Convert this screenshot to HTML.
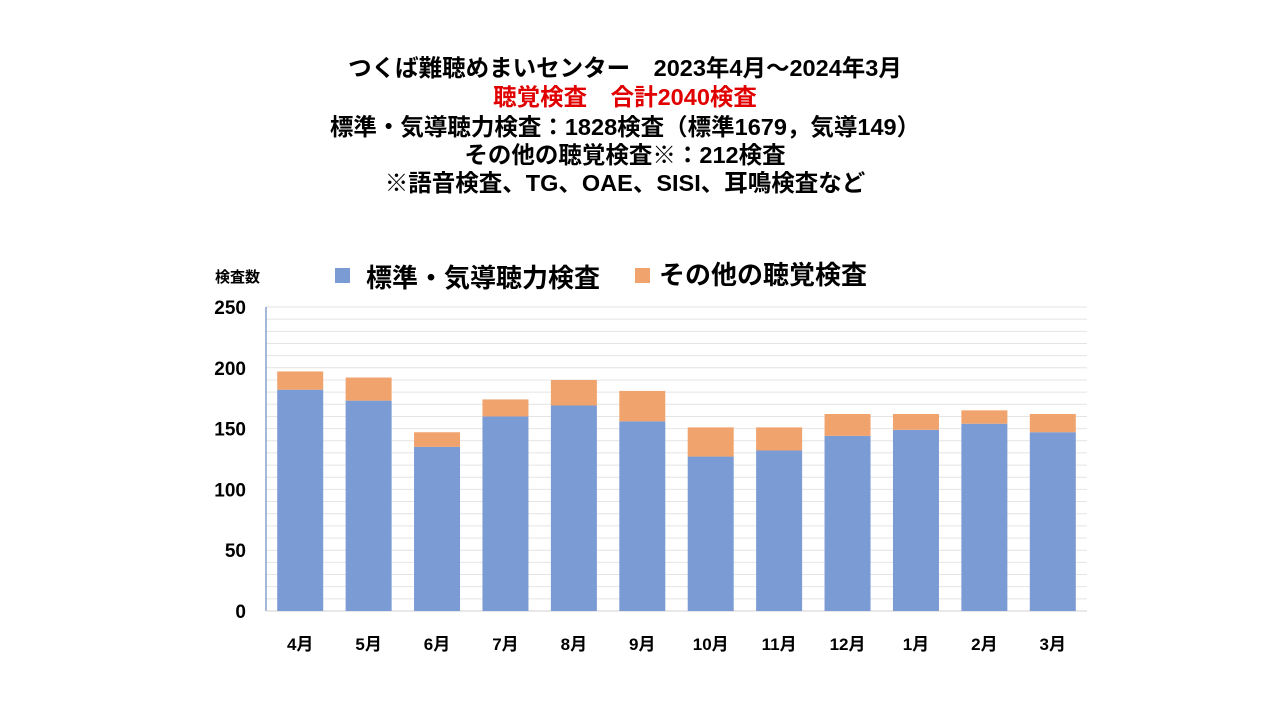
<!DOCTYPE html>
<html><head><meta charset="utf-8"><style>
body{margin:0;width:1280px;height:720px;background:#fff;overflow:hidden;font-family:"Liberation Sans","Noto Sans CJK JP",sans-serif;}
.t{position:absolute;left:0;width:1250px;text-align:center;font-weight:bold;color:#000;font-size:23.5px;line-height:28px;}
</style></head><body>
<div class="t" style="top:54px">つくば難聴めまいセンター　2023年4月～2024年3月</div>
<div class="t" style="top:83px;color:#e00000">聴覚検査　合計2040検査</div>
<div class="t" style="top:113px">標準・気導聴力検査：1828検査（標準1679，気導149）</div>
<div class="t" style="top:141px">その他の聴覚検査※：212検査</div>
<div class="t" style="top:169px">※語音検査、TG、OAE、SISI、耳鳴検査など</div>
<svg id="c" width="1280" height="720" style="position:absolute;left:0;top:0">
<text x="215" y="282" font-size="15" font-weight="bold">検査数</text>
<rect x="335" y="268" width="15" height="15" fill="#7b9bd5"/>
<text x="366" y="287" font-size="26" font-weight="bold">標準・気導聴力検査</text>
<rect x="635" y="268" width="15" height="15" fill="#f0a36c"/>
<text x="659" y="284" font-size="26" font-weight="bold">その他の聴覚検査</text>
</svg>
<script>
const categories=["4月","5月","6月","7月","8月","9月","10月","11月","12月","1月","2月","3月"];
const standard=[182,173,135,160,169,156,127,132,144,149,154,147];
const other=[15,19,12,14,21,25,24,19,18,13,11,15];
const yTicks=[0,50,100,150,200,250];
const svg=document.getElementById('c');const NS='http://www.w3.org/2000/svg';
const x0=266,x1=1087,y0=611,yTop=307,yMax=250;
const y=v=>y0-v*(y0-yTop)/yMax;
const step=(x1-x0)/categories.length;
const cx=i=>x0+step*(i+0.5);
function mk(t,a){const e=document.createElementNS(NS,t);for(const k in a)e.setAttribute(k,a[k]);svg.appendChild(e);return e;}
for(let v=10;v<=yMax;v+=10){const g=mk('line',{x1:x0,x2:x1,y1:y(v),y2:y(v),stroke:'#e4e4e4','stroke-width':1});

}
yTicks.forEach(v=>{const t=mk('text',{x:246,y:y(v)+7,'font-size':19,'font-weight':'bold','text-anchor':'end'});t.textContent=v;

});
const ax=mk('line',{x1:x0,x2:x0,y1:yTop,y2:y0,stroke:'#4a72b0','stroke-width':1});


const bx=mk('line',{x1:x0,x2:x1,y1:y0,y2:y0,stroke:'#d0d0d0','stroke-width':1});


const bw=46;
categories.forEach((c,i)=>{
const b=mk('rect',{x:cx(i)-bw/2,y:y(standard[i]),width:bw,height:y0-y(standard[i]),fill:'#7b9bd5'});


const tot=standard[i]+other[i];
const o=mk('rect',{x:cx(i)-bw/2,y:y(tot),width:bw,height:y(standard[i])-y(tot),fill:'#f0a36c'});


const t=mk('text',{x:cx(i),y:650,'font-size':17,'font-weight':'bold','text-anchor':'middle'});t.textContent=c;


});
</script>
</body></html>
